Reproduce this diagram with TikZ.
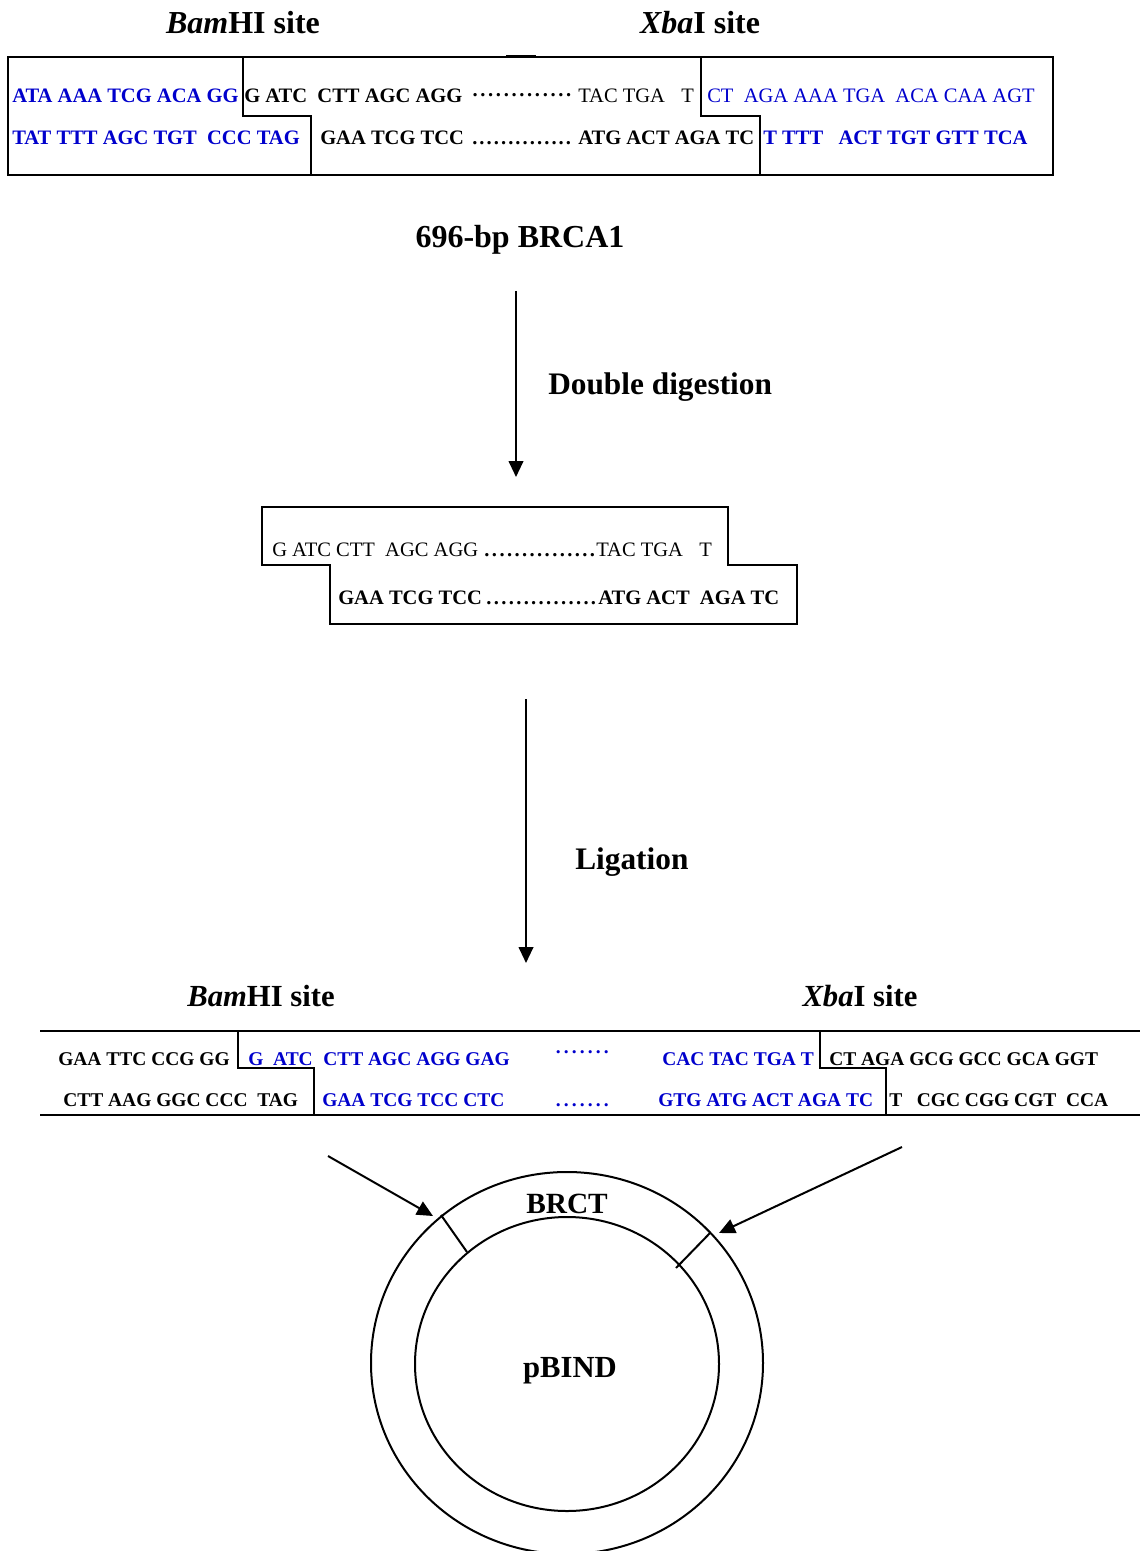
\documentclass[tikz,border=0pt]{standalone}
\usepackage{fontspec}
\setmainfont{Liberation Serif}
\usetikzlibrary{arrows.meta}
\definecolor{seqblue}{RGB}{0,0,204}
% a run of evenly spaced dots
\newcommand\dotrun[2]{\foreach \k in {1,...,#1}{\makebox[#2]{.}}}
\tikzset{
  outline/.style={line width=1.5pt, line join=miter},
  flow/.style={line width=1.5pt, -{Triangle[length=12pt,width=11pt]}},
  seqb/.style={anchor=base west, inner sep=0pt, font=\fontsize{15.4}{18}\selectfont\bfseries},
  seqn/.style={anchor=base west, inner sep=0pt, font=\fontsize{15.4}{18}\selectfont},
  seqs/.style={anchor=base west, inner sep=0pt, font=\fontsize{14.6}{17}\selectfont\bfseries},
  blue/.style={text=seqblue},
  title/.style={anchor=base, inner sep=0pt, font=\fontsize{24}{28}\selectfont\bfseries},
  steplabel/.style={anchor=base west, inner sep=0pt, font=\fontsize{23.5}{28}\selectfont\bfseries},
}
\begin{document}
\begin{tikzpicture}[x=0.75pt,y=-0.75pt]
\useasboundingbox (0,0) rectangle (1140,1551);

% ---------- insert with flanking sequence ----------
\node[title] (bamA) at (243,34) {\textit{Bam}HI site};
\node[title] (xbaA) at (700,34) {\textit{Xba}I site};

\draw[outline] (8,57) rectangle (1053,175);
\draw[outline] (243,57) -- (243,116) -- (311,116) -- (311,175);
\draw[outline] (701,57) -- (701,116) -- (760,116) -- (760,175);
\draw[line width=2.6pt] (506,56.6) -- (536,56.6);

\node[seqb,blue] (t1a) at (12,103) {ATA AAA TCG ACA GG};
\node[seqb] (t1b) at (244,103) {G ATC~~CTT AGC AGG};
\node[seqb] (t1c) at (471,103) {\raisebox{5pt}{\dotrun{13}{5.85pt}}};
\node[seqn] (t1d) at (578,103) {TAC TGA};
\node[seqn] (t1e) at (681,103) {T};
\node[seqn,blue] (t1f) at (707,103) {CT~~AGA AAA TGA~~ACA CAA AGT};

\node[seqb,blue] (t2a) at (12,145) {TAT TTT AGC TGT~~CCC TAG};
\node[seqb] (t2b) at (320,145) {GAA TCG TCC};
\node[seqb] (t2c) at (471,145) {\dotrun{14}{5.4pt}};
\node[seqb] (t2d) at (578,145) {ATG ACT AGA TC};
\node[seqb,blue] (t2e) at (763,145) {T TTT~~~ACT TGT GTT TCA};

\node[title] (insert) at (520,248) {696-bp BRCA1};

% ---------- digestion ----------
\coordinate (d1) at (516,291);
\coordinate (d2) at (516,477);
\draw[flow] (d1) -- (d2);
\node[steplabel] (digest) at (548,394) {Double digestion};

\draw[outline] (262,507) -- (728,507) -- (728,565) -- (797,565) -- (797,624)
  -- (330,624) -- (330,565) -- (262,565) -- cycle;
\node[seqn] (m1a) at (272,556) {G ATC CTT~~AGC AGG};
\node[seqb] (m1b) at (483,556) {\dotrun{15}{5.65pt}};
\node[seqn] (m1c) at (596,556) {TAC TGA};
\node[seqn] (m1d) at (699,556) {T};
\node[seqb] (m2a) at (338,604) {GAA TCG TCC};
\node[seqb] (m2b) at (485,604) {\dotrun{15}{5.6pt}};
\node[seqb] (m2c) at (598,604) {ATG ACT~~AGA TC};

% ---------- ligation ----------
\coordinate (l1) at (526,699);
\coordinate (l2) at (526,963);
\draw[flow] (l1) -- (l2);
\node[steplabel] (ligate) at (575,869) {Ligation};

\node[title, font=\fontsize{23}{28}\selectfont\bfseries] (bamB) at (261,1006) {\textit{Bam}HI site};
\node[title, font=\fontsize{23}{28}\selectfont\bfseries] (xbaB) at (860,1006) {\textit{Xba}I site};

\draw[outline] (40,1031) -- (1140,1031);
\draw[outline] (40,1115) -- (1140,1115);
\draw[outline] (238,1031) -- (238,1068) -- (314,1068) -- (314,1115);
\draw[outline] (820,1031) -- (820,1068) -- (886,1068) -- (886,1115);

\node[seqs] (b1a) at (58,1065) {GAA TTC CCG GG};
\node[seqs,blue] (b1b) at (248,1065) {G~~ATC};
\node[seqs,blue] (b1c) at (323,1065) {CTT AGC AGG GAG};
\node[seqs,blue] (b1d) at (554,1065) {\raisebox{9pt}{\dotrun{7}{6pt}}};
\node[seqs,blue] (b1e) at (662,1065) {CAC TAC TGA T};
\node[seqs] (b1f) at (829,1065) {CT AGA GCG GCC GCA GGT};

\node[seqs] (b2a) at (63,1106) {CTT AAG GGC CCC~~TAG};
\node[seqs,blue] (b2b) at (322,1106) {GAA TCG TCC CTC};
\node[seqs,blue] (b2c) at (554,1106) {\dotrun{7}{6pt}};
\node[seqs,blue] (b2d) at (658,1106) {GTG ATG ACT AGA TC};
\node[seqs] (b2e) at (889,1106) {T~~~CGC CGG CGT~~CCA};

% ---------- vector ----------
\draw[outline] (567,1363) ellipse [x radius=196, y radius=191];
\draw[outline] (567,1364) ellipse [x radius=152, y radius=147];
\draw[outline] (441,1215) -- (467,1252);
\draw[outline] (710,1233) -- (676,1268);

\coordinate (p1) at (328,1156);
\coordinate (p2) at (433,1216);
\coordinate (q1) at (902,1147);
\coordinate (q2) at (719,1233);
\draw[flow] (p1) -- (p2);
\draw[flow] (q1) -- (q2);

\node[anchor=base, inner sep=0pt, font=\fontsize{22}{26}\selectfont\bfseries] (brct) at (567,1213) {BRCT};
\node[anchor=base, inner sep=0pt, font=\fontsize{23}{27}\selectfont\bfseries] (pbind) at (570,1377) {pBIND};
\end{tikzpicture}
\end{document}
